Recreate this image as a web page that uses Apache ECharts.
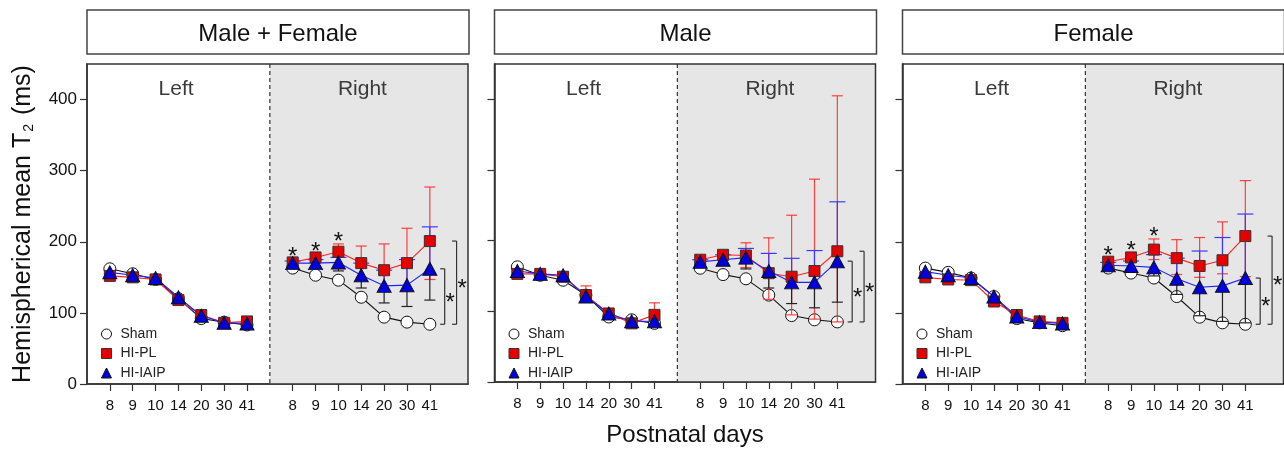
<!DOCTYPE html>
<html>
<head>
<meta charset="utf-8">
<script src="https://cdn.jsdelivr.net/npm/echarts@6.0.0/dist/echarts.min.js"></script>
<style>
html,body{margin:0;padding:0;background:#fff;}
#chart{width:1284px;height:452px;}
</style>
</head>
<body>
<div id="chart"></div>
<script>
// ---------------- data ----------------
const DAYS = ['8', '9', '10', '14', '20', '30', '41'];
const PANEL_TITLES = ['Male + Female', 'Male', 'Female'];
const SIDE_LABELS = ['Left', 'Right'];
const GROUPS = ['Sham', 'HI-PL', 'HI-IAIP'];
const Y_TICKS = [0, 100, 200, 300, 400];

// Male + Female
const MF_SHAM_L = [162, 155, 147, 120, 92, 87, 83];
const MF_PL_L   = [152, 150, 147, 118, 97, 86, 88];
const MF_IAIP_L = [157, 153, 149, 122, 96, 86, 85];
const MF_PL_L_HI = [155, 153, 150, 121, 100, 89, 91];
const MF_PL_L_LO = [149, 147, 144, 115, 94, 83, 85];
const MF_SHAM_R = [163, 153, 146, 122, 94, 87, 84];
const MF_PL_R   = [171, 178, 186, 170, 160, 170, 201];
const MF_IAIP_R = [170, 170, 171, 153, 138, 139, 162];
const MF_PL_R_HI = [176, 183, 197, 194, 197, 219, 277];
const MF_PL_R_LO = [166, 173, 178, 150, 132, 131, 147];
const MF_IAIP_R_HI = [173, 175, 178, 170, 160, 175, 221];
const MF_IAIP_R_LO = [165, 164, 159, 135, 114, 109, 118];
const MF_STARS = ['8', '9', '10'];

// Male
const M_SHAM_L = [163, 151, 144, 123, 92, 88, 83];
const M_PL_L   = [153, 153, 149, 123, 97, 83, 95];
const M_IAIP_L = [157, 153, 151, 121, 97, 86, 86];
const M_PL_L_HI = [156, 156, 152, 136, 101, 87, 112];
const M_PL_L_LO = [150, 150, 146, 114, 93, 80, 82];
const M_SHAM_R = [161, 152, 146, 123, 94, 88, 85];
const M_PL_R   = [173, 180, 179, 154, 149, 157, 185];
const M_IAIP_R = [170, 173, 176, 157, 141, 141, 171];
const M_PL_R_HI = [177, 184, 197, 204, 236, 287, 405];
const M_PL_R_LO = [169, 176, 162, 117, 95, 89, 85];
const M_IAIP_R_HI = [173, 180, 189, 182, 175, 186, 255];
const M_IAIP_R_LO = [166, 166, 160, 133, 111, 105, 113];
const M_STARS = [];

// Female
const F_SHAM_L = [163, 157, 149, 123, 92, 86, 82];
const F_PL_L   = [150, 147, 146, 116, 97, 88, 86];
const F_IAIP_L = [158, 153, 149, 123, 95, 87, 85];
const F_PL_L_HI = [153, 150, 149, 119, 100, 91, 89];
const F_PL_L_LO = [147, 144, 143, 113, 94, 85, 83];
const F_SHAM_R = [163, 156, 149, 123, 94, 86, 84];
const F_PL_R   = [172, 178, 189, 177, 166, 174, 208];
const F_IAIP_R = [167, 166, 164, 148, 136, 138, 149];
const F_PL_R_HI = [177, 184, 204, 203, 206, 228, 286];
const F_PL_R_LO = [167, 172, 175, 154, 150, 155, 151];
const F_IAIP_R_HI = [171, 173, 182, 177, 187, 206, 239];
const F_IAIP_R_LO = [163, 159, 152, 126, 96, 88, 86];
const F_STARS = ['8', '9', '10'];

// ---------------- layout ----------------
const FONT = '"Liberation Sans", Arial, Helvetica, sans-serif';
const PANEL_LEFT = [87, 494.5, 902.5];
const PANEL_W = 381, PANEL_TOP = 64, PANEL_H = 320;
const X_MAX = 16.67, Y_MAX = 450;

const PANELS = [
  {sL: MF_SHAM_L, pL: MF_PL_L, iL: MF_IAIP_L, pLH: MF_PL_L_HI, pLL: MF_PL_L_LO,
   sR: MF_SHAM_R, pR: MF_PL_R, iR: MF_IAIP_R, pRH: MF_PL_R_HI, pRL: MF_PL_R_LO,
   iRH: MF_IAIP_R_HI, iRL: MF_IAIP_R_LO, stars: MF_STARS},
  {sL: M_SHAM_L, pL: M_PL_L, iL: M_IAIP_L, pLH: M_PL_L_HI, pLL: M_PL_L_LO,
   sR: M_SHAM_R, pR: M_PL_R, iR: M_IAIP_R, pRH: M_PL_R_HI, pRL: M_PL_R_LO,
   iRH: M_IAIP_R_HI, iRL: M_IAIP_R_LO, stars: M_STARS},
  {sL: F_SHAM_L, pL: F_PL_L, iL: F_IAIP_L, pLH: F_PL_L_HI, pLL: F_PL_L_LO,
   sR: F_SHAM_R, pR: F_PL_R, iR: F_IAIP_R, pRH: F_PL_R_HI, pRL: F_PL_R_LO,
   iRH: F_IAIP_R_HI, iRL: F_IAIP_R_LO, stars: F_STARS}
];

const TICK_POS = [];
DAYS.forEach((d, i) => TICK_POS.push(i + 1));
DAYS.forEach((d, i) => TICK_POS.push(i + 9));

function dayLabel(v) {
  const r = Math.round(v);
  return r < 8 ? DAYS[r - 1] : DAYS[r - 9];
}

function linePts(L, R) {
  const out = L.map((v, i) => [i + 1, v]);
  out.push([8, '-']);
  R.forEach((v, i) => out.push([i + 9, v]));
  return out;
}

function errItems(P) {
  const items = [];
  P.pLH.forEach((h, i) => items.push([i + 1, P.pLL[i], h, 0]));
  P.pRH.forEach((h, i) => items.push([i + 9, P.pRL[i], h, 0]));
  P.iRH.forEach((h, i) => items.push([i + 9, P.iR[i], h, 1]));
  P.iRL.forEach((l, i) => items.push([i + 9, P.iR[i], l, 2]));
  return items;
}

const ERR_COLORS = ['rgba(255,45,45,0.9)', '#3a3aff', '#222'];
const ERR_CAP = [11, 16, 11];

function errRender(params, api) {
  const x = api.value(0), a = api.value(1), b = api.value(2), t = api.value(3);
  const p1 = api.coord([x, a]), p2 = api.coord([x, b]);
  const st = {stroke: ERR_COLORS[t], lineWidth: 1.2};
  const w = ERR_CAP[t] / 2;
  const ch = [
    {type: 'line', z2: 100, shape: {x1: p1[0], y1: p1[1], x2: p2[0], y2: p2[1]}, style: st},
    {type: 'line', z2: 100, shape: {x1: p2[0] - w, y1: p2[1], x2: p2[0] + w, y2: p2[1]}, style: st}
  ];
  if (t === 0) ch.push({type: 'line', z2: 100, shape: {x1: p1[0] - w, y1: p1[1], x2: p1[0] + w, y2: p1[1]}, style: st});
  return {type: 'group', children: ch};
}

function backRender(params, api) {
  const tl = api.coord([8, Y_MAX]), br = api.coord([X_MAX, 0]);
  const lp = api.coord([3.9, 415]), rp = api.coord([12.05, 415]);
  return {type: 'group', children: [
    {type: 'rect', shape: {x: tl[0], y: tl[1], width: br[0] - tl[0], height: br[1] - tl[1]}, style: {fill: '#e6e6e6'}},
    {type: 'line', shape: {x1: tl[0], y1: tl[1], x2: tl[0], y2: br[1]}, style: {stroke: '#333', lineWidth: 1.2, lineDash: [4, 3]}},
    {type: 'text', x: lp[0], y: lp[1], style: {text: SIDE_LABELS[0], fontSize: 21, fontFamily: FONT, fill: '#3a3a3a', align: 'center', verticalAlign: 'middle'}},
    {type: 'text', x: rp[0], y: rp[1], style: {text: SIDE_LABELS[1], fontSize: 21, fontFamily: FONT, fill: '#3a3a3a', align: 'center', verticalAlign: 'middle'}}
  ]};
}

function starText(x, y, size) {
  return {type: 'text', x: x, y: y + size * 0.27, style: {text: '*', fontSize: size, fontFamily: FONT, fill: '#111', align: 'center', verticalAlign: 'middle'}};
}

function makeFrontRender(P) {
  return function (params, api) {
    const tl = api.coord([0, Y_MAX]), br = api.coord([X_MAX, 0]);
    const ch = [
      {type: 'rect', shape: {x: tl[0], y: tl[1], width: br[0] - tl[0], height: br[1] - tl[1]}, style: {fill: null, stroke: '#333', lineWidth: 1.5}}
    ];
    P.stars.forEach(d => {
      const i = DAYS.indexOf(d);
      const top = Math.max(P.pRH[i], P.iRH[i]);
      const p = api.coord([i + 9, top]);
      ch.push(starText(p[0], p[1] - 8, 24));
    });
    const last = DAYS.length - 1;
    const brackets = [[15.65, P.iR[last]], [16.17, P.pR[last]]];
    brackets.forEach(b => {
      const t = api.coord([b[0], b[1]]), bt = api.coord([b[0], P.sR[last]]);
      const st = {stroke: '#333', lineWidth: 1.2};
      ch.push({type: 'line', shape: {x1: t[0], y1: t[1], x2: bt[0], y2: bt[1]}, style: st});
      ch.push({type: 'line', shape: {x1: t[0] - 4.5, y1: t[1], x2: t[0], y2: t[1]}, style: st});
      ch.push({type: 'line', shape: {x1: bt[0] - 4.5, y1: bt[1], x2: bt[0], y2: bt[1]}, style: st});
      ch.push(starText(t[0] + 5.5, (t[1] + bt[1]) / 2, 24));
    });
    return {type: 'group', children: ch};
  };
}

// ---------------- option ----------------
const grids = [], xAxes = [], yAxes = [], series = [], legends = [], graphics = [];

PANELS.forEach((P, p) => {
  const L = PANEL_LEFT[p];
  grids.push({left: L, top: PANEL_TOP, width: PANEL_W, height: PANEL_H, containLabel: false});
  xAxes.push({
    type: 'value', gridIndex: p, min: 0, max: X_MAX,
    axisLine: {show: true, onZero: false, lineStyle: {color: '#333', width: 1.5}},
    axisTick: {show: true, customValues: TICK_POS, length: 7, lineStyle: {color: '#333', width: 1.2}},
    axisLabel: {customValues: TICK_POS, formatter: dayLabel, fontSize: 15, color: '#111', margin: 14, fontFamily: FONT},
    splitLine: {show: false},
    name: p === 1 ? 'Postnatal days' : '',
    nameLocation: 'middle', nameGap: 41,
    nameTextStyle: {fontSize: 24, color: '#111', fontFamily: FONT, lineHeight: 24}
  });
  yAxes.push({
    type: 'value', gridIndex: p, min: 0, max: Y_MAX, interval: 100,
    axisLine: {show: true, lineStyle: {color: '#333', width: 1.5}},
    axisTick: {show: true, customValues: Y_TICKS, length: 7, lineStyle: {color: '#333', width: 1.2}},
    axisLabel: {show: p === 0, customValues: Y_TICKS, fontSize: 17, color: '#111', margin: 10, fontFamily: FONT},
    splitLine: {show: false},
    name: p === 0 ? 'Hemispherical mean T{s|2} (ms)' : '',
    nameLocation: 'middle', nameGap: 51,
    nameTextStyle: {fontSize: 25, color: '#111', fontFamily: FONT,
      rich: {s: {fontSize: 14, fontFamily: FONT, color: '#111', verticalAlign: 'bottom', padding: [0, 2, 0, 1]}}}
  });

  series.push({
    type: 'custom', name: 'bg' + p, xAxisIndex: p, yAxisIndex: p, z: 1, silent: true,
    data: [[8, 0]], renderItem: backRender
  });
  series.push({
    type: 'line', name: GROUPS[0], xAxisIndex: p, yAxisIndex: p, z: 2,
    data: linePts(P.sL, P.sR), symbol: 'circle', symbolSize: 12,
    itemStyle: {color: '#fff', borderColor: '#111', borderWidth: 1},
    lineStyle: {color: '#111', width: 1.1}, emphasis: {disabled: true}
  });
  series.push({
    type: 'custom', name: 'err' + p, xAxisIndex: p, yAxisIndex: p, z: 2, silent: true,
    data: errItems(P), renderItem: errRender
  });
  series.push({
    type: 'line', name: GROUPS[1], xAxisIndex: p, yAxisIndex: p, z: 3,
    data: linePts(P.pL, P.pR), symbol: 'rect', symbolSize: 11,
    itemStyle: {color: '#e60000', borderColor: '#333', borderWidth: 1},
    lineStyle: {color: '#ff2020', width: 1.1}, emphasis: {disabled: true}
  });
  series.push({
    type: 'line', name: GROUPS[2], xAxisIndex: p, yAxisIndex: p, z: 3,
    data: linePts(P.iL, P.iR), symbol: 'triangle', symbolSize: [14, 13],
    itemStyle: {color: '#0000dd', borderColor: '#111', borderWidth: 1},
    lineStyle: {color: '#2020ff', width: 1.1}, emphasis: {disabled: true}
  });
  series.push({
    type: 'custom', name: 'front' + p, xAxisIndex: p, yAxisIndex: p, z: 4, silent: true,
    data: [[8, 0]], renderItem: makeFrontRender(P)
  });

  legends.push({
    orient: 'vertical', left: L + 9, top: 322, itemWidth: 10, itemHeight: 10, itemGap: 5.5,
    selectedMode: false,
    textStyle: {fontSize: 14, color: '#222', fontFamily: FONT, padding: [0, 0, 0, 4]},
    data: [
      {name: GROUPS[0], icon: 'circle', itemStyle: {color: '#fff', borderColor: '#111', borderWidth: 1}},
      {name: GROUPS[1], icon: 'rect', itemStyle: {color: '#e60000', borderColor: '#333', borderWidth: 1}},
      {name: GROUPS[2], icon: 'triangle', itemStyle: {color: '#0000dd', borderColor: '#111', borderWidth: 1}}
    ]
  });

  graphics.push({type: 'rect', shape: {x: L, y: 10, width: PANEL_W + 1, height: 44},
    style: {fill: '#fff', stroke: '#444', lineWidth: 1.5}});
  graphics.push({type: 'text', x: L + (PANEL_W + 1) / 2, y: 34,
    style: {text: PANEL_TITLES[p], fontSize: 24, fontFamily: FONT, fill: '#111', align: 'center', verticalAlign: 'middle'}});
});

const chart = echarts.init(document.getElementById('chart'), null, {renderer: 'canvas'});
chart.setOption({
  animation: false,
  backgroundColor: '#fff',
  textStyle: {fontFamily: FONT},
  grid: grids, xAxis: xAxes, yAxis: yAxes,
  legend: legends, series: series, graphic: graphics
});
</script>
</body>
</html>
